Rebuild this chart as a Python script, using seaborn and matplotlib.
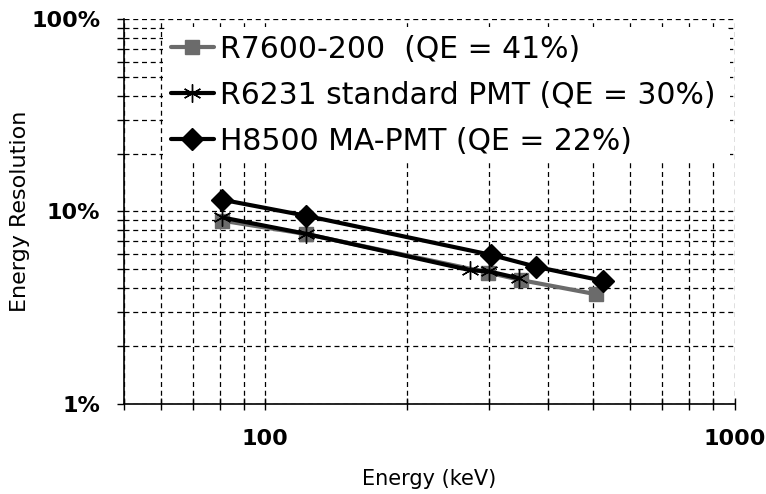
import numpy as np
import pandas as pd
import matplotlib
matplotlib.use('Agg')
import matplotlib.pyplot as plt
from matplotlib.ticker import LogLocator, FuncFormatter, NullFormatter, FixedLocator
import seaborn as sns

#-----------------------------------------------
# energies (keV) and resolution (%)
e_r7600=[81, 122, 298, 351, 506]
r_r7600=[8.95, 7.63, 4.81, 4.39, 3.71]

e_r6231=[81, 122, 273, 300, 348]
r_r6231=[9.3, 7.65, 4.95, 4.87, 4.48]

e_h8500=[81, 122, 302, 378, 525]
r_h8500=[11.5, 9.5, 5.95, 5.15, 4.35]

labels=['R7600-200  (QE = 41%)', 'R6231 standard PMT (QE = 30%)', 'H8500 MA-PMT (QE = 22%)']

#######################################################
sns.set_style('white')
plt.rcParams['font.family']=['DejaVu Sans']
plt.rcParams['text.color']='black'
plt.rcParams['axes.labelcolor']='black'
plt.rcParams['xtick.color']='black'
plt.rcParams['ytick.color']='black'

series=[
    (e_r7600, r_r7600, labels[0], '#6b6b6b', 's', 10),
    (e_r6231, r_r6231, labels[1], 'black', (6, 2, 0), 13),
    (e_h8500, r_h8500, labels[2], 'black', 'D', 11),
]

fig=plt.figure(figsize=(7.66, 4.94), dpi=100)
ax=fig.add_axes([0.162, 0.183, 0.797, 0.778])

for e, r, lab, col, mk, ms in series:
    df=pd.DataFrame({'E': e, 'R': r})
    sns.lineplot(data=df, x='E', y='R', ax=ax, color=col, lw=3, marker=mk,
                 markersize=ms, markeredgewidth=1, markeredgecolor=col,
                 markerfacecolor=col, label=lab, zorder=3, sort=False)

ax.set_xscale('log')
ax.set_yscale('log')
ax.set_xlim(50, 1000)
ax.set_ylim(1, 100)

ax.xaxis.set_major_locator(FixedLocator([100, 1000]))
ax.xaxis.set_minor_locator(LogLocator(base=10, subs=np.arange(2, 10)))
ax.xaxis.set_minor_formatter(NullFormatter())
ax.xaxis.set_major_formatter(FuncFormatter(lambda v, p: f'{v:g}'))
ax.yaxis.set_major_locator(FixedLocator([1, 10, 100]))
ax.yaxis.set_minor_locator(LogLocator(base=10, subs=np.arange(2, 10)))
ax.yaxis.set_minor_formatter(NullFormatter())
ax.yaxis.set_major_formatter(FuncFormatter(lambda v, p: f'{v:g}%'))

ax.grid(which='both', color='black', ls=(0, (4, 3)), lw=0.9, zorder=0)
ax.set_axisbelow(True)
for s in ['top', 'right']:
    ax.spines[s].set_visible(False)
for s in ['left', 'bottom']:
    ax.spines[s].set_color('black')
    ax.spines[s].set_linewidth(1.2)

ax.tick_params(axis='y', which='both', direction='out', length=5, width=1, color='black',
               left=True, pad=12)
ax.tick_params(axis='x', which='both', direction='inout', length=8, width=1, color='black',
               bottom=True, pad=14)
for t in ax.get_xticklabels()+ax.get_yticklabels():
    t.set_fontsize(16)
    t.set_fontweight('bold')

ax.set_xlabel('Energy (keV)', fontsize=15, labelpad=15)
ax.set_ylabel('Energy Resolution', fontsize=16, labelpad=1)

leg=ax.legend(loc='upper left', bbox_to_anchor=(0.064, 0.0, 0.928, 0.979), mode='expand',
              fontsize=21.5, frameon=True, facecolor='white', edgecolor='none', framealpha=1,
              handlelength=1.44, handletextpad=0.2, labelspacing=0.57, borderpad=0.25,
              borderaxespad=0.0)
leg.set_zorder(5)

plt.savefig('out.png', dpi=100)
plt.close()
